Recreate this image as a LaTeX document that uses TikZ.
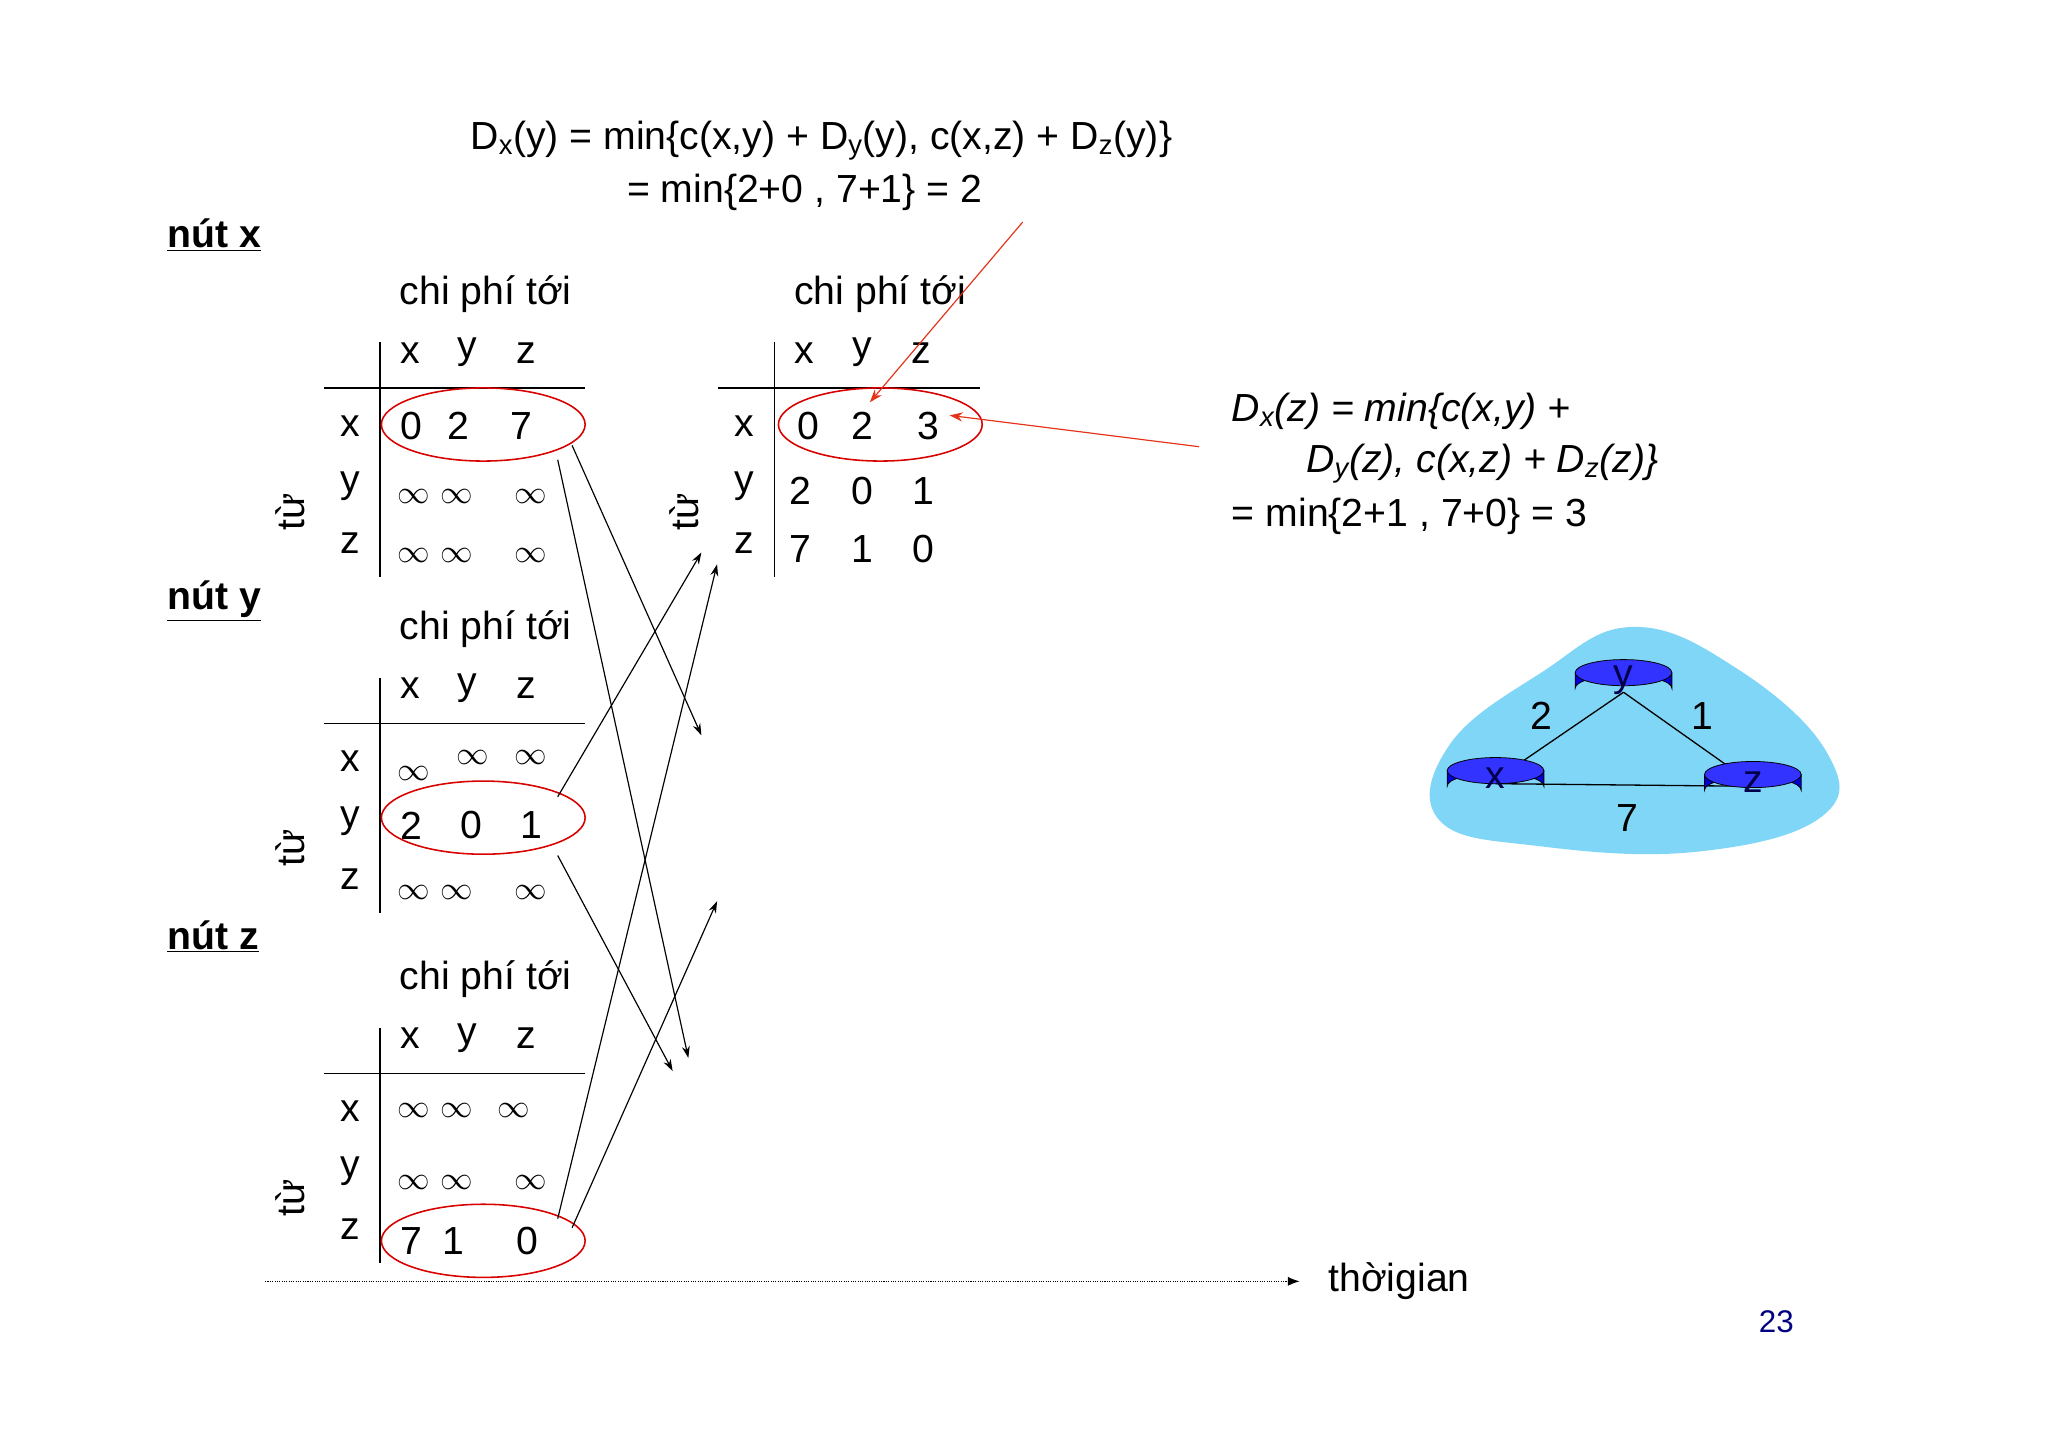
\documentclass[tikz,border=0pt]{standalone}
\usepackage{fontspec}
\setmainfont{Liberation Sans}
\usetikzlibrary{arrows.meta,shapes.geometric}
\begin{document}
\begin{tikzpicture}[x=1pt,y=-1pt,
 t/.style={font=\fontsize{30}{34}\selectfont,inner sep=0pt,anchor=center},
 inf/.style={font=\fontsize{24}{28}\selectfont,inner sep=0pt,anchor=center},
 hd/.style={font=\fontsize{30}{34}\selectfont\bfseries,inner sep=0pt,anchor=west},
 oval/.style={draw=red!85!black,line width=1.2pt,ellipse,minimum width=156pt,minimum height=56pt,inner sep=0pt},
 arr/.style={-{Stealth[length=9pt,width=6pt]},line width=0.9pt},
 rarr/.style={-{Stealth[length=10pt,width=7pt]},line width=0.9pt,draw=red!60!brown},
 tbl/.style={line width=1pt}]
\useasboundingbox (0,0) rectangle (1568,1108);
\fill[white] (0,0) rectangle (1568,1108);
% formula top
\node[t,anchor=west] (f1) at (360,108) {D\textsubscript{x}(y) = min\{c(x,y) + D\textsubscript{y}(y), c(x,z) + D\textsubscript{z}(y)\}};
\node[t,anchor=west] (f2) at (480,147) {= min\{2+0 , 7+1\} = 2};
% headings
\node[hd] (nx) at (128,180) {\underline{nút x}};
\node[hd] (ny) at (128,460) {\underline{nút y}};
\node[hd] (nz) at (128,717) {\underline{nút z}};
% generic table drawer
\newcommand{\mytable}[3]{% #1 dx, #2 dy, #3 name
 \begin{scope}[shift={(#1,#2)}]
 \node[t,anchor=west] (#3c) at (306,225) {chi phí tới};
 \node[t] (#3hx) at (314,270) {x};
 \node[t] (#3hy) at (358,270) {y};
 \node[t] (#3hz) at (403,270) {z};
 \draw[tbl] (291,262) -- (291,442);
 \draw[tbl] (248,297) -- (448,297);
 \node[t] (#3rx) at (268,326) {x};
 \node[t] (#3ry) at (268,372) {y};
 \node[t] (#3rz) at (268,416) {z};
 \node[t,rotate=90] (#3f) at (222,392) {từ};
 \end{scope}}
\mytable{0}{0}{a}
\mytable{302}{0}{b}
\mytable{0}{257}{c}
\mytable{0}{525}{d}
% table a values
\node[t] at (315,326) {0}; \node[t] at (351,326) {2}; \node[t] at (399,326) {7};
\node[inf] at (317,380) {$\infty$}; \node[inf] at (350,380) {$\infty$}; \node[inf] at (406,380) {$\infty$};
\node[inf] at (317,425) {$\infty$}; \node[inf] at (350,425) {$\infty$}; \node[inf] at (406,425) {$\infty$};
\node[oval] (ea) at (370,325) {};
% table b values
\node[t] at (619,326) {0}; \node[t] at (660,326) {2}; \node[t] at (711,326) {3};
\node[t] at (613,376) {2}; \node[t] at (660,376) {0}; \node[t] at (707,376) {1};
\node[t] at (613,420) {7}; \node[t] at (660,420) {1}; \node[t] at (707,420) {0};
\node[oval] (eb) at (674,325) {};
% table c values
\node[inf] at (317,592) {$\infty$}; \node[inf] at (362,580) {$\infty$}; \node[inf] at (406,580) {$\infty$};
\node[t] at (315,632) {2}; \node[t] at (361,632) {0}; \node[t] at (407,632) {1};
\node[inf] at (317,683) {$\infty$}; \node[inf] at (350,683) {$\infty$}; \node[inf] at (406,683) {$\infty$};
\node[oval] (ec) at (370,626) {};
% table d values
\node[inf] at (317,850) {$\infty$}; \node[inf] at (350,850) {$\infty$}; \node[inf] at (393,850) {$\infty$};
\node[inf] at (317,905) {$\infty$}; \node[inf] at (350,905) {$\infty$}; \node[inf] at (406,905) {$\infty$};
\node[t] at (315,950) {7}; \node[t] at (347,950) {1}; \node[t] at (404,950) {0};
\node[oval] (ed) at (370,950) {};
% arrows
\coordinate (p1) at (537,563); \coordinate (p2) at (527,810);
\coordinate (p3) at (537,423); \coordinate (p4) at (515,820);
\coordinate (p5) at (549,432); \coordinate (p6) at (549,690);
\draw[arr] (438,341) -- (p1);
\draw[arr] (427,352) -- (p2);
\draw[arr] (427,610) -- (p3);
\draw[arr] (427,655) -- (p4);
\draw[arr] (427,933) -- (p5);
\draw[arr] (438,940) -- (p6);
% red arrows
\coordinate (r1) at (783,170); \coordinate (r1e) at (666,308);
\coordinate (r2) at (918,342); \coordinate (r2e) at (727,318);
\draw[rarr] (r1) -- (r1e);
\draw[rarr] (r2) -- (r2e);
% Dx(z)
\node[t,anchor=west] (g1) at (943,315) {\itshape D\textsubscript{x}(z) = min\{c(x,y) +};
\node[t,anchor=west] (g2) at (1000,355) {\itshape D\textsubscript{y}(z), c(x,z) + D\textsubscript{z}(z)\}};
\node[t,anchor=west] (g3) at (943,395) {= min\{2+1 , 7+0\} = 3};
% time axis
\coordinate (ta) at (203,981);
\node[t,anchor=west] (tt) at (1017,981) {thờigian};
\draw[densely dotted,line width=0.8pt,-{Latex[length=9pt,width=7pt]}] (ta) -- (995,981);
\node[font=\fontsize{24}{28}\selectfont,text=blue!50!black] (pg) at (1360,1012) {23};
% cloud
\fill[cyan!50!white] plot[smooth cycle,tension=0.7] coordinates {(1250,480) (1330,512) (1398,575) (1395,625) (1300,652) (1180,648) (1102,628) (1110,570) (1180,515)};
% routers
\newcommand{\router}[3]{%
 \fill[blue!85!black,draw=black,line width=0.6pt] (#1-37,#2) -- (#1-37,#2+12) arc[start angle=180,end angle=360,x radius=37,y radius=10] -- (#1+37,#2) -- cycle;
 \draw[fill=blue!80!white,line width=0.6pt] (#1,#2) ellipse[x radius=37,y radius=10];
 \node[t,text=black!70!blue] (#3) at (#1,#2+6) {#3};}
\draw[line width=1pt] (1243,530) -- (1145,597);
\draw[line width=1pt] (1243,530) -- (1342,600);
\draw[line width=1pt] (1145,600) -- (1342,602);
\router{1243}{515}{y}
\router{1145}{590}{x}
\router{1342}{593}{z}
\node[t] (l2) at (1180,548) {2};
\node[t] (l1) at (1303,548) {1};
\node[t] (l7) at (1246,626) {7};
\end{tikzpicture}
\end{document}
